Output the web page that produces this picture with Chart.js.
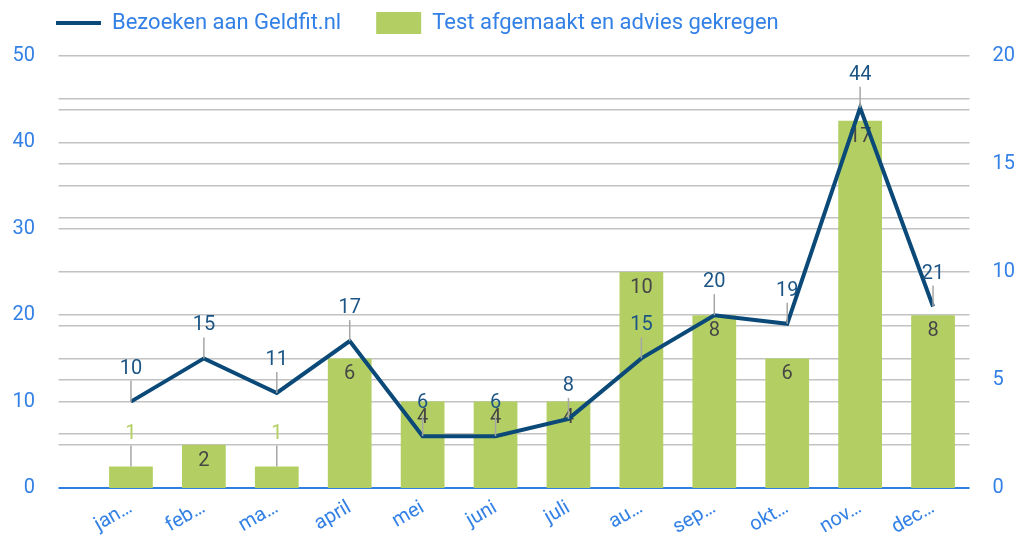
<!DOCTYPE html>
<html>
<head>
<meta charset="utf-8">
<script src="https://cdn.jsdelivr.net/npm/chart.js@4.4.1/dist/chart.umd.min.js"></script>
<style>
  html, body { margin: 0; padding: 0; background: #ffffff; }
  #wrap { width: 1014px; height: 536px; }
</style>
</head>
<body>
<div id="wrap"><canvas id="c" width="1014" height="536"></canvas></div>
<script>
// ---- data ----
const categories = ['jan…', 'feb…', 'ma…', 'april', 'mei', 'juni', 'juli', 'au…', 'sep…', 'okt…', 'nov…', 'dec…'];
const visits = [10, 15, 11, 17, 6, 6, 8, 15, 20, 19, 44, 21];       // Bezoeken aan Geldfit.nl (left axis)
const tests  = [1, 2, 1, 6, 4, 4, 4, 10, 8, 6, 17, 8];              // Test afgemaakt en advies gekregen (right axis)
const leftTicks  = [0, 10, 20, 30, 40, 50];
const rightTicks = [0, 5, 10, 15, 20];
const leftMinor = 5;      // left axis grid step
const rightMinor = 2.5;   // right axis grid step

// ---- style ----
const NAVY = '#0b4a78';
const NAVY_TXT = '#1c5585';
const GREEN = '#b3cf63';
const BLUE = '#3381e6';
const AXIS_BLUE = '#2f7fe3';
const GRID = '#c2c2c2';
const LEADER = '#a6a6a6';
const FONT = 'Roboto, "Noto Sans", sans-serif';

const leftMax = leftTicks[leftTicks.length - 1];
const rightMax = rightTicks[rightTicks.length - 1];

// union of both grids, expressed in left-axis units
const gridVals = [];
for (let v = 0; v <= leftMax + 1e-9; v += leftMinor) gridVals.push(+v.toFixed(4));
for (let v = 0; v <= rightMax + 1e-9; v += rightMinor) gridVals.push(+(v * leftMax / rightMax).toFixed(4));
const gridTicks = [...new Set(gridVals)].sort((a, b) => a - b);

const labelPlugin = {
  id: 'valueLabels',
  beforeLayout(chart) {
    const lg = chart.legend;
    if (lg && !lg._patched) {
      const fit = lg.fit;
      lg.fit = function () { fit.call(this); this.height = 56; };
      lg._patched = true;
    }
  },
  afterLayout(chart) {
    const lg = chart.legend;
    if (lg) { lg.top -= 23; lg.left += 21; }
  },
  afterDatasetDraw(chart, args) {
    if (args.index !== 1) return;
    const ctx = chart.ctx;
    ctx.save();
    ctx.font = '20px ' + FONT;
    ctx.textAlign = 'center';
    ctx.textBaseline = 'middle';
    args.meta.data.forEach((el, i) => {
      const h = el.base - el.y;
      if (h < 30) {
        ctx.strokeStyle = LEADER; ctx.lineWidth = 1.5;
        ctx.beginPath(); ctx.moveTo(el.x, el.y); ctx.lineTo(el.x, el.y - 21); ctx.stroke();
        ctx.fillStyle = GREEN;
        ctx.fillText(String(tests[i]), el.x, el.y - 32);
      } else {
        ctx.fillStyle = '#464646';
        ctx.fillText(String(tests[i]), el.x, el.y + 16);
      }
    });
    ctx.restore();
  },
  afterDatasetsDraw(chart) {
    const ctx = chart.ctx;
    const meta = chart.getDatasetMeta(0);
    ctx.save();
    ctx.font = '20px ' + FONT;
    ctx.textAlign = 'center';
    ctx.textBaseline = 'middle';
    meta.data.forEach((pt, i) => {
      ctx.strokeStyle = LEADER; ctx.lineWidth = 1.5;
      ctx.beginPath(); ctx.moveTo(pt.x, pt.y); ctx.lineTo(pt.x, pt.y - 21); ctx.stroke();
      ctx.fillStyle = NAVY_TXT;
      ctx.fillText(String(visits[i]), pt.x, pt.y - 33);
    });
    ctx.restore();
  }
};

new Chart(document.getElementById('c'), {
  data: {
    labels: categories,
    datasets: [
      {
        type: 'line',
        label: 'Bezoeken aan Geldfit.nl',
        data: visits,
        yAxisID: 'y',
        borderColor: NAVY,
        backgroundColor: NAVY,
        borderWidth: 4,
        pointRadius: 0,
        pointHoverRadius: 0,
        tension: 0,
        fill: false
      },
      {
        type: 'bar',
        label: 'Test afgemaakt en advies gekregen',
        data: tests,
        yAxisID: 'y1',
        backgroundColor: GREEN,
        borderWidth: 0,
        categoryPercentage: 1,
        barPercentage: 0.6
      }
    ]
  },
  options: {
    responsive: false,
    animation: false,
    events: [],
    layout: { padding: { left: 0, right: 0, top: 0, bottom: 0 } },
    plugins: {
      tooltip: { enabled: false },
      legend: {
        position: 'top',
        align: 'start',
        labels: {
          usePointStyle: true,
          pointStyleWidth: 45,
          boxHeight: 22,
          padding: 35,
          color: BLUE,
          font: { family: FONT, size: 22 },
          generateLabels(chart) {
            const items = Chart.defaults.plugins.legend.labels.generateLabels(chart);
            items[0].pointStyle = 'line'; items[0].lineWidth = 4; items[0].strokeStyle = NAVY; items[0].fillStyle = NAVY;
            items[1].pointStyle = 'rect'; items[1].lineWidth = 0; items[1].fillStyle = GREEN; items[1].strokeStyle = GREEN;
            items.forEach(it => it.fontColor = BLUE);
            return items;
          }
        }
      }
    },
    scales: {
      x: {
        grid: { display: false },
        border: { display: false },
        ticks: {
          color: BLUE,
          font: { family: FONT, size: 20 },
          minRotation: 30,
          maxRotation: 30,
          autoSkip: false,
          padding: 0
        },
        afterFit(s) { s.height = 48; }
      },
      y: {
        position: 'left',
        min: 0,
        max: leftMax,
        afterBuildTicks(s) { s.ticks = gridTicks.map(v => ({ value: v })); },
        ticks: {
          autoSkip: false,
          color: BLUE,
          font: { family: FONT, size: 20 },
          padding: 23.5,
          callback: v => (leftTicks.includes(v) ? String(v) : '')
        },
        grid: {
          color: c => (c.tick && c.tick.value === 0 ? AXIS_BLUE : GRID),
          lineWidth: c => (c.tick && c.tick.value === 0 ? 2 : 1.5),
          tickLength: 36,
          drawTicks: true
        },
        border: { display: false },
        afterFit(s) { s.width = 94.5; }
      },
      y1: {
        position: 'right',
        min: 0,
        max: rightMax,
        afterBuildTicks(s) { s.ticks = rightTicks.map(v => ({ value: v })); },
        ticks: {
          color: BLUE,
          font: { family: FONT, size: 20 },
          padding: 15
        },
        grid: { display: false },
        border: { display: false },
        afterFit(s) { s.width = 44.5; }
      }
    }
  },
  plugins: [labelPlugin]
});
</script>
</body>
</html>
